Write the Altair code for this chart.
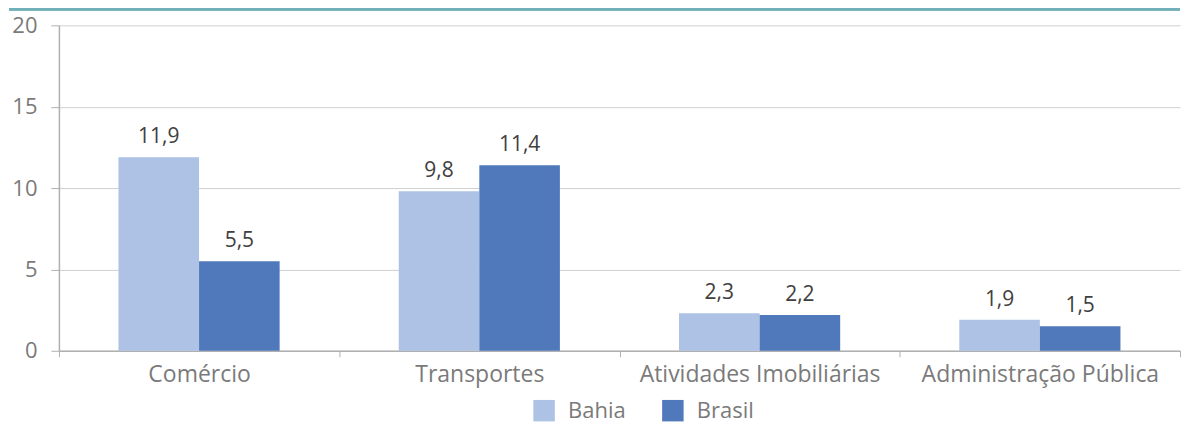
import altair as alt
import pandas as pd

categories = ["Comércio", "Transportes", "Atividades Imobiliárias", "Administração Pública"]
series = ["Bahia", "Brasil"]
bahia = [11.9, 9.8, 2.3, 1.9]
brasil = [5.5, 11.4, 2.2, 1.5]
y_ticks = [0, 5, 10, 15, 20]
colors = ["#adc2e4", "#5079bc"]

rows = []
for c, b, r in zip(categories, bahia, brasil):
    rows.append({"cat": c, "serie": "Bahia", "v": b, "label": f"{b:.1f}".replace(".", ",")})
    rows.append({"cat": c, "serie": "Brasil", "v": r, "label": f"{r:.1f}".replace(".", ",")})
df = pd.DataFrame(rows)

FONT = "Open Sans"
W, H = 1123, 326

x_enc = alt.X(
    "cat:N", sort=categories,
    scale=alt.Scale(paddingInner=0, paddingOuter=0),
    axis=alt.Axis(title=None, labelAngle=0, tickBand="extent", tickSize=6,
                  tickColor="#b0b0b0", domainColor="#b0b0b0", domainWidth=1.5,
                  labelFont=FONT, labelFontSize=23, labelColor="#7a7a7a",
                  labelPadding=7, labelLimit=0, grid=False),
)
xo_scale = alt.Scale(paddingInner=0, paddingOuter=0.739)
y_enc = alt.Y(
    "v:Q", scale=alt.Scale(domain=[0, 20], nice=False),
    axis=alt.Axis(title=None, values=y_ticks, tickSize=8, tickColor="#b0b0b0",
                  domainColor="#b0b0b0", domainWidth=1.5, gridColor="#d0d0d0",
                  labelFont=FONT, labelFontSize=22, labelColor="#7a7a7a",
                  labelPadding=14, minExtent=50, maxExtent=50),
)

bars = alt.Chart(df).mark_bar().encode(
    x=x_enc, xOffset=alt.XOffset("serie:N", sort=series, scale=xo_scale), y=y_enc,
    color=alt.Color("serie:N", sort=series,
                    scale=alt.Scale(domain=series, range=colors),
                    legend=alt.Legend(title=None, orient="none", legendX=475, legendY=375,
                                      direction="horizontal", symbolType="square",
                                      symbolSize=462, symbolStrokeWidth=0,
                                      symbolOpacity=1, labelFont=FONT, labelFontSize=22,
                                      labelColor="#7a7a7a", labelOffset=13,
                                      columnPadding=36)),
)

labels = alt.Chart(df).mark_text(dy=-14, baseline="alphabetic", fontSize=21,
                                 color="#404040", font=FONT).encode(
    x=alt.X("cat:N", sort=categories),
    xOffset=alt.XOffset("serie:N", sort=series, scale=xo_scale),
    y="v:Q", text="label:N",
)

top_line = alt.Chart(df).mark_rule(color="#70aeb8", strokeWidth=2).encode(
    x=alt.value(-50), x2=alt.value(W), y=alt.value(-16),
)

chart = alt.layer(bars, labels, top_line).properties(
    width=W, height=H, padding={"left": 0, "top": 0, "right": 0, "bottom": 5},
).configure_view(stroke=None)

chart.save("out.html", embed_options={"renderer": "svg", "actions": False})
